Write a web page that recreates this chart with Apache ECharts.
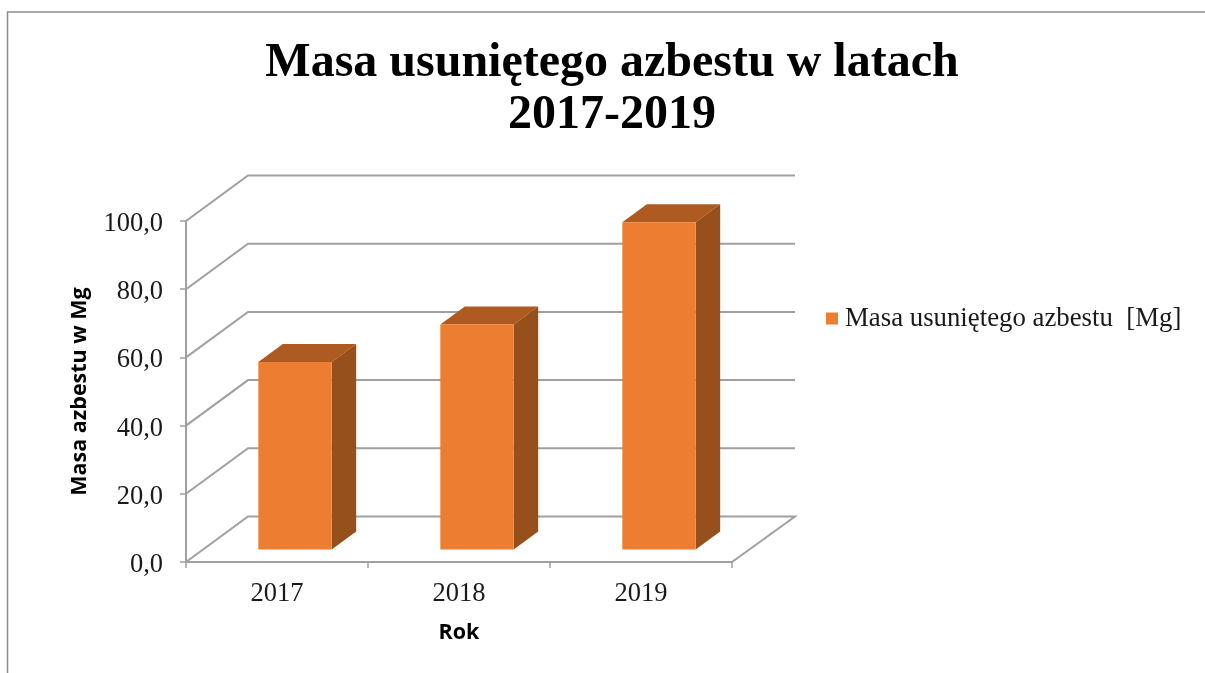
<!DOCTYPE html>
<html>
<head>
<meta charset="utf-8">
<title>Masa usuniętego azbestu</title>
<script src="https://cdn.jsdelivr.net/npm/echarts@6/dist/echarts.min.js"></script>
<style>
	html, body { margin: 0; padding: 0; background: #fff; }
	#chart { width: 1205px; height: 673px; }
</style>
</head>
<body>
<div id="chart"></div>
<script>
const years = ['2017', '2018', '2019'];
const masa = [55, 66, 96];
const yTicks = [0, 20, 40, 60, 80, 100];
const seriesName = 'Masa usuniętego azbestu  [Mg]';

const SERIF = '"Liberation Serif", serif';
const SANS = '"Open Sans", sans-serif';
const GREY = '#a0a0a0';

// pseudo 3D: how far the back wall and the bar faces are shifted, in px
const WALL_DX = 62;
const WALL_DY = -45.5;
const BAR_DX = 18;
const BAR_DY = -12.5;
const BAR_SIDE_DX = 24.5;
const BAR_SIDE_DY = -18;

const chart = echarts.init(document.getElementById('chart'), null, { renderer: 'canvas', devicePixelRatio: 1 });

const renderWall = (params, api) => {
	const cs = params.coordSys;
	const y = api.coord([0, api.value(0)])[1];
	const points = [
		[cs.x, y],
		[cs.x + WALL_DX, y + WALL_DY],
		[cs.x + cs.width + WALL_DX + 1, y + WALL_DY]
	];
	if (api.value(0) === 0) {
		points.push([cs.x + cs.width, y]);
	}
	return {
		type: 'polyline',
		shape: { points: points },
		style: { fill: 'none', stroke: GREY, lineWidth: 2 }
	};
};

const renderBar = (params, api) => {
	const top = api.coord([api.value(0), api.value(1)]);
	const bottom = api.coord([api.value(0), 0]);
	const w = api.size([1, 0])[0] * 0.403;
	const x0 = top[0] - w / 2 + BAR_DX;
	const x1 = x0 + w;
	const yBase = bottom[1] + BAR_DY;
	const yTop = top[1] + BAR_DY;
	return {
		type: 'group',
		children: [
			{
				type: 'polygon',
				shape: { points: [[x0, yTop], [x1, yTop], [x1 + BAR_SIDE_DX, yTop + BAR_SIDE_DY], [x0 + BAR_SIDE_DX, yTop + BAR_SIDE_DY]] },
				style: { fill: '#ae5a21' }
			},
			{
				type: 'polygon',
				shape: { points: [[x1, yTop], [x1 + BAR_SIDE_DX, yTop + BAR_SIDE_DY], [x1 + BAR_SIDE_DX, yBase + BAR_SIDE_DY], [x1, yBase]] },
				style: { fill: '#97501b' }
			},
			{
				type: 'rect',
				shape: { x: x0, y: yTop, width: w, height: yBase - yTop },
				style: { fill: '#ed7d31' }
			}
		]
	};
};

var option = {
	animation: false,
	backgroundColor: '#fff',
	graphic: [
		{
			type: 'polyline',
			silent: true,
			shape: { points: [[7.5, 673], [7.5, 12], [1205, 12]] },
			style: { fill: 'none', stroke: '#8c8c8c', lineWidth: 1.5 }
		}
	],
	title: {
		text: 'Masa usuniętego azbestu w latach\n2017-2019',
		left: 607,
		top: 33,
		textAlign: 'center',
		textStyle: {
			fontFamily: SERIF,
			fontWeight: 'bold',
			fontSize: 48,
			lineHeight: 52,
			color: '#000'
		}
	},
	legend: {
		data: [seriesName],
		left: 821,
		top: 300,
		icon: 'rect',
		itemWidth: 12,
		itemHeight: 12,
		itemGap: 0,
		textStyle: {
			fontFamily: SERIF,
			fontSize: 26.8,
			color: '#1a1a1a',
			padding: [0, 0, 0, 2]
		}
	},
	grid: { left: 186, top: 221, width: 546, height: 341, containLabel: false },
	xAxis: {
		type: 'category',
		data: years,
		name: 'Rok',
		nameLocation: 'middle',
		nameGap: 60,
		nameTextStyle: { fontFamily: SANS, fontWeight: 'bold', fontSize: 21.5, color: '#000' },
		axisLine: { show: true, lineStyle: { color: GREY, width: 2 } },
		axisTick: { show: true, length: 6, alignWithLabel: false, lineStyle: { color: GREY, width: 1.5 } },
		axisLabel: { fontFamily: SERIF, fontSize: 26.5, color: '#1a1a1a', margin: 19 },
		splitLine: { show: false }
	},
	yAxis: {
		type: 'value',
		min: 0,
		max: 100,
		interval: 20,
		name: 'Masa azbestu w Mg',
		nameLocation: 'middle',
		nameGap: 95,
		nameTextStyle: { fontFamily: SANS, fontWeight: 'bold', fontSize: 21.5, color: '#000' },
		axisLine: { show: true, lineStyle: { color: GREY, width: 2 } },
		axisTick: { show: true, length: 6, lineStyle: { color: GREY, width: 1.5 } },
		axisLabel: {
			margin: 23,
			formatter: (v) => '{tick|' + v.toFixed(1).replace('.', ',') + '}',
			rich: {
				tick: {
					fontFamily: SERIF,
					fontSize: 26.5,
					color: '#1a1a1a',
					padding: [6, 0, 0, 0]
				}
			}
		},
		splitLine: { show: false }
	},
	series: [
		{
			name: 'wall',
			type: 'custom',
			renderItem: renderWall,
			encode: { y: 0 },
			data: yTicks.map((v) => [v]),
			silent: true,
			z: 1
		},
		{
			name: seriesName,
			type: 'custom',
			renderItem: renderBar,
			encode: { x: 0, y: 1 },
			itemStyle: { color: '#ed7d31' },
			data: masa.map((v, i) => [i, v]),
			z: 3
		}
	]
};

chart.setOption(option);
</script>
</body>
</html>
